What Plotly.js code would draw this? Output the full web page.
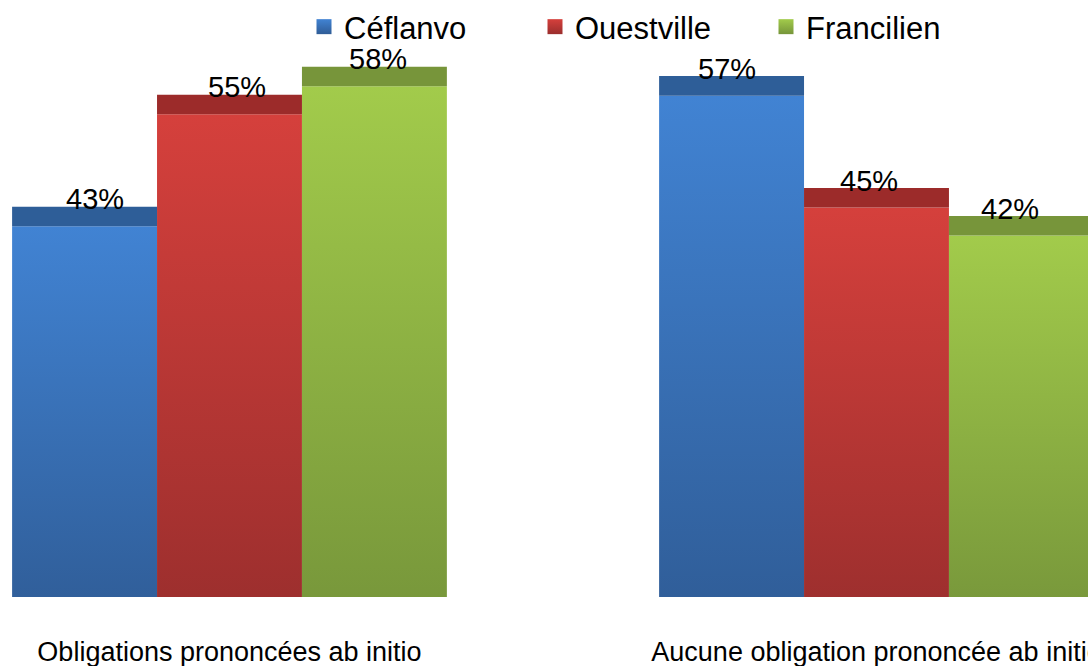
<!DOCTYPE html>
<html><head><meta charset="utf-8">
<script src="https://cdn.plot.ly/plotly-3.0.1.min.js"></script>
<style>html,body{margin:0;padding:0;overflow:hidden;background:#fff}#chart{width:1088px;height:666px}</style>
</head><body><div id="chart"></div>
<script>
// ---- data ----
const categories = ["Obligations prononcées ab initio", "Aucune obligation prononcée ab initio"];
const seriesNames = ["Céflanvo", "Ouestville", "Francilien"];
const cefValues = [43, 57];
const ouestValues = [55, 45];
const franValues = [58, 42];
const seriesValues = [cefValues, ouestValues, franValues];

// ---- style ----
const FONT = "Liberation Sans, Arial, sans-serif";
const frontColors = ["#3a70b8", "#b83835", "#8bae42"];
const topColors = ["#2e5e98", "#9c2b2a", "#77953a"];
const gradStops = [["#4183d3", "#2f5c96"], ["#d5403c", "#9a2e2d"], ["#a2cb4b", "#76953a"]];
const TOP_DEPTH = 2.1;
const BARGAP = 0.328;
const XRANGE = [-0.3547, 1.3269];
const W = 1088, H = 666;
const PERSPECTIVE = 0.023;

const traces = [];
seriesNames.forEach((name, i) => {
  traces.push({
    type: "bar", name: name, x: categories, y: seriesValues[i],
    offsetgroup: "g" + i, marker: {color: frontColors[i], line: {width: 0}},
    hoverinfo: "skip"
  });
});
seriesNames.forEach((name, i) => {
  traces.push({
    type: "bar", name: name + " top", x: categories,
    y: seriesValues[i].map(() => TOP_DEPTH), base: seriesValues[i],
    offsetgroup: "g" + i, marker: {color: topColors[i], line: {width: 0}},
    showlegend: false, hoverinfo: "skip"
  });
});

const slot = (1 - BARGAP) / seriesNames.length;
const pxPerUnit = W / (XRANGE[1] - XRANGE[0]);
const annotations = [];
seriesValues.forEach((vals, si) => {
  vals.forEach((v, ci) => {
    const xv = ci + (si - 1) * slot;
    const px = (xv - XRANGE[0]) * pxPerUnit;
    annotations.push({
      x: xv, y: v, xref: "x", yref: "y",
      text: v + "%", showarrow: false, yanchor: "middle", yshift: 27,
      xshift: (W / 2 - px) * PERSPECTIVE,
      font: {family: FONT, size: 29, color: "#000"}
    });
  });
});

const layout = {
  width: W, height: H,
  margin: {l: 0, r: 0, t: 0, b: 69},
  paper_bgcolor: "#fff", plot_bgcolor: "rgba(0,0,0,0)",
  barmode: "group", bargap: BARGAP, bargroupgap: 0,
  showlegend: true,
  legend: {orientation: "h", x: 304/1088, xanchor: "left", y: 1, yanchor: "top",
           font: {family: FONT, size: 31, color: "#000"}, entrywidth: 186,
           bgcolor: "rgba(0,0,0,0)", traceorder: "normal"},
  xaxis: {type: "category", range: XRANGE, showgrid: false, zeroline: false,
          showline: false, ticks: "", ticklabelstandoff: 36,
          tickfont: {family: FONT, size: 27, color: "#000"}, fixedrange: true},
  yaxis: {range: [3.27, 67.25], visible: false, showgrid: false, zeroline: false, fixedrange: true},
  annotations: annotations
};

Plotly.newPlot("chart", traces, layout, {displayModeBar: false, staticPlot: true}).then(gd => {
  const svg = gd.querySelector(".main-svg");
  const NS = "http://www.w3.org/2000/svg";
  let defs = svg.querySelector("defs");
  if (!defs) { defs = document.createElementNS(NS, "defs"); svg.insertBefore(defs, svg.firstChild); }
  gradStops.forEach((st, i) => {
    const g = document.createElementNS(NS, "linearGradient");
    g.setAttribute("id", "barGrad" + i);
    g.setAttribute("x1", "0"); g.setAttribute("y1", "0"); g.setAttribute("x2", "0"); g.setAttribute("y2", "1");
    [[0, st[0]], [1, st[1]]].forEach(([o, c]) => {
      const s = document.createElementNS(NS, "stop");
      s.setAttribute("offset", o); s.setAttribute("stop-color", c);
      g.appendChild(s);
    });
    defs.appendChild(g);
  });
  const barTraces = gd.querySelectorAll(".barlayer .trace.bars");
  barTraces.forEach((t, idx) => {
    if (idx < seriesNames.length) {
      t.querySelectorAll("path").forEach(p => p.style.setProperty("fill", "url(#barGrad" + idx + ")"));
    }
  });
  gd.querySelectorAll(".legend .traces").forEach((t, idx) => {
    t.querySelectorAll(".legendpoints path").forEach(p => {
      p.setAttribute("d", "M7.5,7.5H-7.5V-7.5H7.5Z");
      p.style.setProperty("fill", "url(#barGrad" + idx + ")");
    });
  });
});
</script>
</body></html>
